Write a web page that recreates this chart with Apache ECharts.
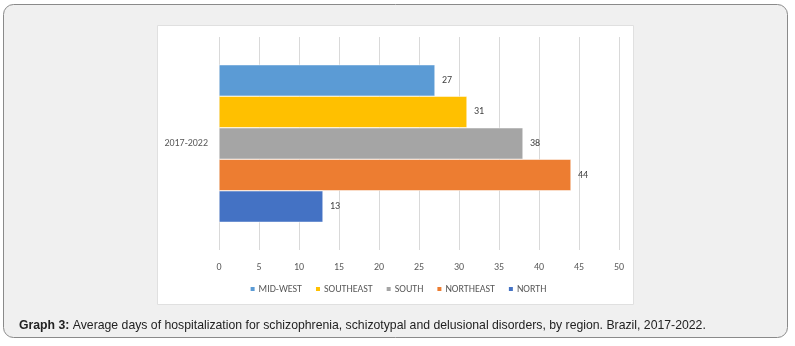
<!DOCTYPE html>
<html><head><meta charset="utf-8">
<script src="https://cdn.jsdelivr.net/npm/echarts@6/dist/echarts.min.js"></script>
<style>html,body{margin:0;padding:0;background:#fff}#c{width:795px;height:346px}</style>
</head><body><div id="c"></div>
<script>
const categories = ['2017-2022'];
const seriesNames = ['MID-WEST', 'SOUTHEAST', 'SOUTH', 'NORTHEAST', 'NORTH'];
const midWest = [27];
const southeast = [31];
const south = [38];
const northeast = [44];
const north = [13];
const xTicks = [0, 5, 10, 15, 20, 25, 30, 35, 40, 45, 50];
const colors = ['#5B9BD5', '#FFC000', '#A5A5A5', '#ED7D31', '#4472C4'];
const values = [midWest, southeast, south, northeast, north];

const chart = echarts.init(document.getElementById('c'), null, {renderer: 'canvas'});
const font = 'Calibri, Carlito, "Liberation Sans", Arial, sans-serif';
chart.setOption({
  animation: false,
  graphic: [
    {type: 'rect', z: -10, shape: {x: 3.5, y: 4.5, width: 784, height: 333, r: 10},
     style: {fill: '#f0f0f0', stroke: '#8a8a8a', lineWidth: 1}},
    {type: 'rect', z: -9, shape: {x: 157.5, y: 25.5, width: 476, height: 279},
     style: {fill: '#ffffff', stroke: '#e0e0e0', lineWidth: 1}}
  ],
  title: {
    text: '{b|Graph 3:} Average days of hospitalization for schizophrenia, schizotypal and delusional disorders, by region. Brazil, 2017-2022.',
    left: 14, top: 315,
    textStyle: {
      fontFamily: '"Liberation Sans", Arial, sans-serif', fontSize: 12.25, color: '#222', fontWeight: 'normal',
      rich: {b: {fontFamily: '"Liberation Sans", Arial, sans-serif', fontSize: 12.25, fontWeight: 'bold', color: '#222'}}
    }
  },
  legend: {
    data: seriesNames, bottom: 47, left: 'center',
    itemWidth: 6, itemHeight: 6, itemGap: 12, icon: 'rect',
    textStyle: {fontFamily: font, fontSize: 10, color: '#595959', padding: [0, 0, 0, -2]}
  },
  grid: {left: 219, right: 176, top: 37, bottom: 96, containLabel: false},
  xAxis: {
    type: 'value', min: xTicks[0], max: xTicks[xTicks.length - 1], interval: 5,
    axisLine: {show: false}, axisTick: {show: false},
    splitLine: {lineStyle: {color: '#d9d9d9'}},
    axisLabel: {fontFamily: font, fontSize: 10, color: '#595959', margin: 12}
  },
  yAxis: {
    type: 'category', data: categories, inverse: true,
    axisLine: {show: false}, axisTick: {show: false},
    axisLabel: {fontFamily: font, fontSize: 10, color: '#595959', margin: 11}
  },
  series: seriesNames.map((n, i) => ({
    name: n, type: 'bar', data: values[i],
    barGap: '0%', barCategoryGap: '26%',
    itemStyle: {color: colors[i], borderColor: '#fff', borderWidth: 0.5},
    label: {show: true, position: 'right', distance: 7, fontFamily: font, fontSize: 10, color: '#404040'}
  }))
});
</script></body></html>
